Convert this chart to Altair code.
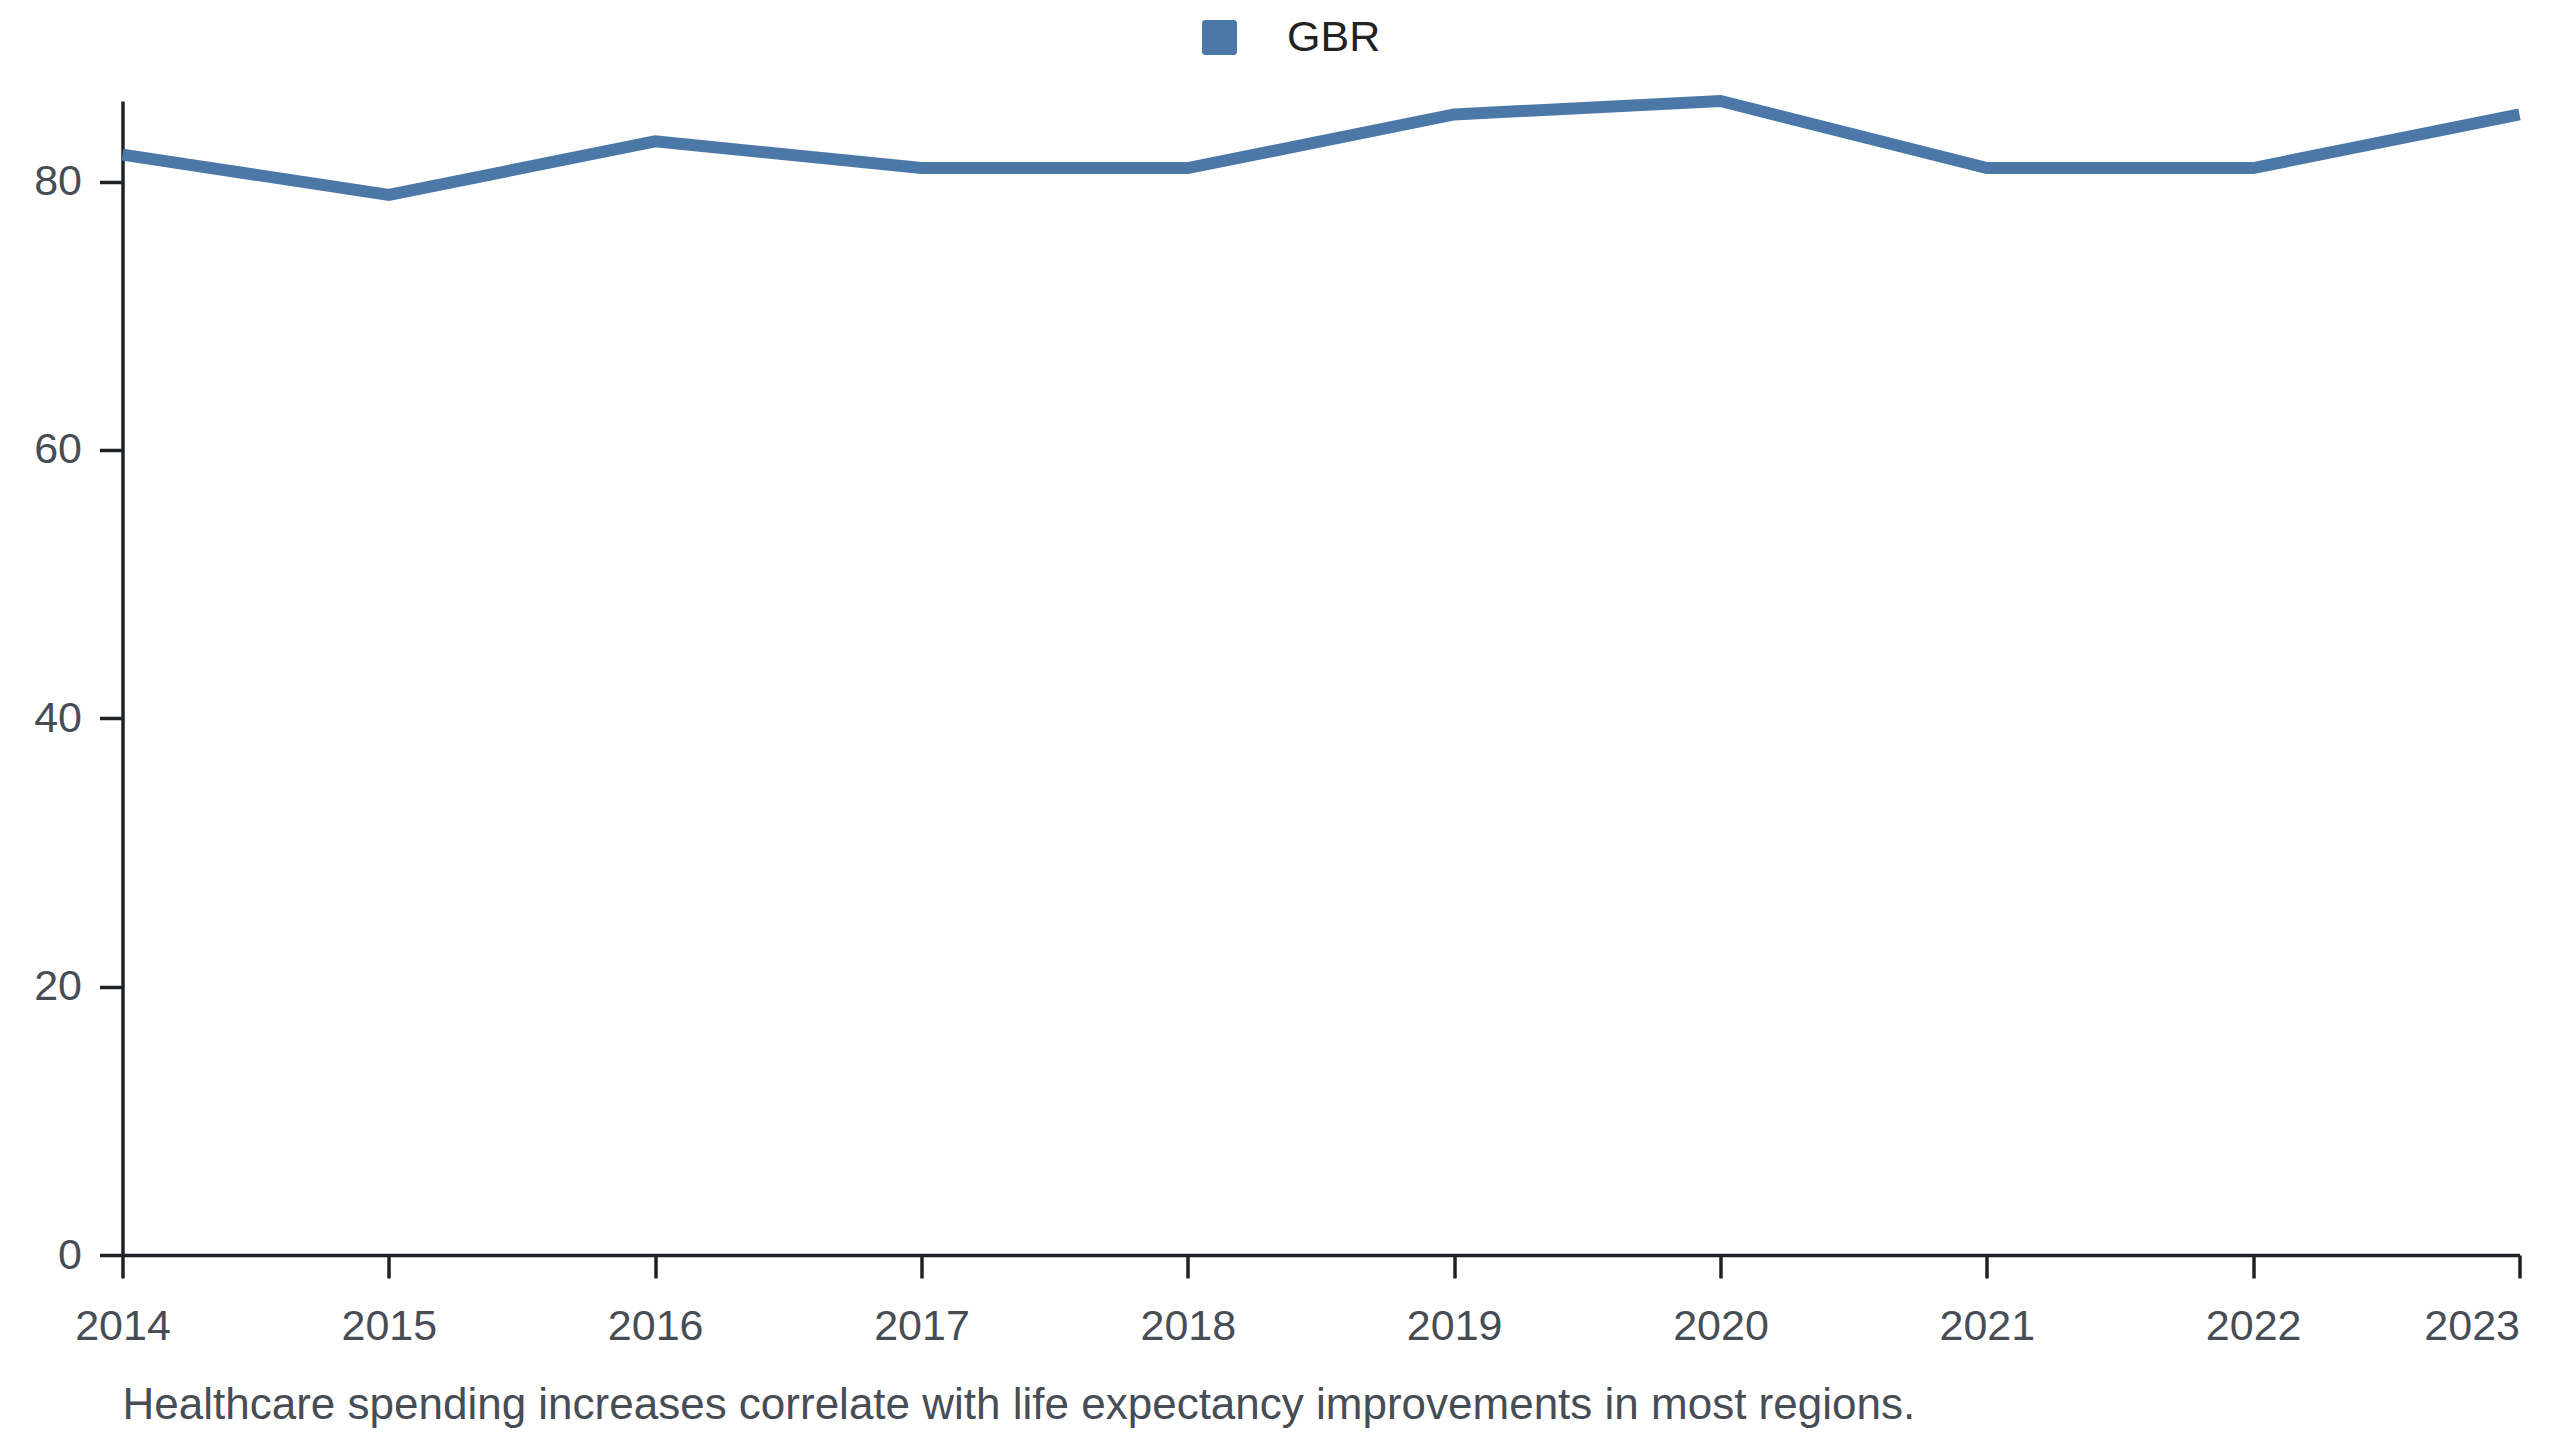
import altair as alt
import pandas as pd

years = [2014, 2015, 2016, 2017, 2018, 2019, 2020, 2021, 2022, 2023]
values = [82, 79, 83, 81, 81, 85, 86, 81, 81, 85]
country = ["GBR"] * len(years)
y_ticks = [0, 20, 40, 60, 80]
caption = "Healthcare spending increases correlate with life expectancy improvements in most regions."

df = pd.DataFrame({"year": years, "value": values, "country": country})

FONT = "Liberation Sans, Arial, Helvetica, sans-serif"
LABEL = "#474d55"
AXIS = "#1f2328"
BLUE = "#4c78a8"

rounded_square = ("M -0.8 -1 L 0.8 -1 Q 1 -1 1 -0.8 L 1 0.8 Q 1 1 0.8 1 "
                  "L -0.8 1 Q -1 1 -1 0.8 L -1 -0.8 Q -1 -1 -0.8 -1 Z")

chart = alt.Chart(df).mark_line(strokeWidth=12).encode(
    x=alt.X(
        "year:Q",
        title=None,
        scale=alt.Scale(domain=[2014, 2023], nice=False, zero=False),
        axis=alt.Axis(
            values=years,
            format="d",
            grid=False,
            tickSize=23,
            tickWidth=3.5,
            tickColor=AXIS,
            domainColor=AXIS,
            domainWidth=3.5,
            labelPadding=27,
            labelFontSize=43,
            labelColor=LABEL,
            labelFont=FONT,
            labelAlign={"condition": {"test": "datum.value == 2023", "value": "right"}, "value": "center"},
        ),
    ),
    y=alt.Y(
        "value:Q",
        title=None,
        scale=alt.Scale(domain=[0, 86], nice=False),
        axis=alt.Axis(
            values=y_ticks,
            grid=False,
            tickSize=23,
            tickWidth=3.5,
            tickColor=AXIS,
            domainColor=AXIS,
            domainWidth=3.5,
            labelPadding=18,
            labelFontSize=43,
            labelColor=LABEL,
            labelFont=FONT,
        ),
    ),
    color=alt.Color(
        "country:N",
        scale=alt.Scale(domain=["GBR"], range=[BLUE]),
        legend=alt.Legend(
            title=None,
            orient="none",
            legendX=1075.5,
            legendY=-85,
            direction="horizontal",
            symbolType=rounded_square,
            symbolSize=1225,
            symbolFillColor=BLUE,
            symbolStrokeWidth=0,
            labelOffset=46,
            labelFontSize=43,
            labelColor="#222222",
            labelFont=FONT,
            padding=0,
        ),
    ),
).properties(
    width=2397,
    height=1154,
    title=alt.TitleParams(
        text=caption,
        orient="bottom",
        anchor="start",
        frame="group",
        fontSize=44,
        font=FONT,
        fontWeight="normal",
        color=LABEL,
        offset=36,
    ),
    autosize=alt.AutoSizeParams(type="none"),
    padding={"left": 114.5, "top": 93, "right": 32, "bottom": 180},
).configure(background="white").configure_view(stroke=None)

chart.save("out.html", embed_options={"renderer": "svg", "actions": False})
